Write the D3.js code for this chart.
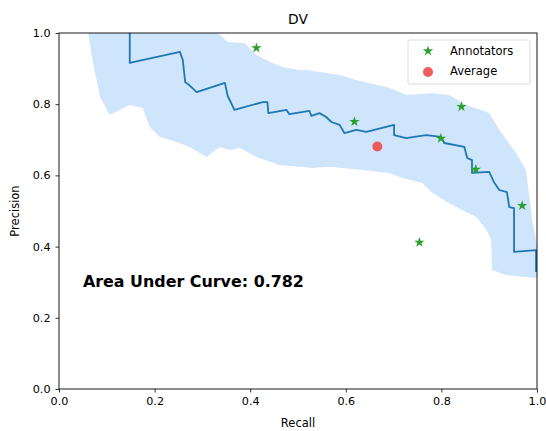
<!DOCTYPE html>
<html>
<head>
<meta charset="utf-8">
<script src="https://cdn.jsdelivr.net/npm/d3@7"></script>
<style>
  html, body { margin: 0; padding: 0; background: #fff; }
  svg { display: block; font-family: "DejaVu Sans", sans-serif; }
</style>
</head>
<body>
<svg id="chart" width="546" height="431"></svg>
<script>
// Precision–recall curve (recall, precision)
const curveRecall = [0.148, 0.148, 0.253, 0.259, 0.264, 0.273, 0.288, 0.347, 0.353, 0.367,
  0.426, 0.436, 0.438, 0.476, 0.482, 0.524, 0.528, 0.545, 0.559, 0.570, 0.587, 0.597,
  0.622, 0.643, 0.701, 0.701, 0.726, 0.768, 0.800, 0.806, 0.848, 0.854, 0.864, 0.864,
  0.900, 0.910, 0.921, 0.937, 0.942, 0.952, 0.952, 0.998, 0.998];
const curvePrecision = [1.000, 0.916, 0.947, 0.924, 0.862, 0.853, 0.834, 0.860, 0.823, 0.784,
  0.806, 0.806, 0.775, 0.784, 0.772, 0.781, 0.767, 0.775, 0.764, 0.750, 0.742, 0.719,
  0.728, 0.722, 0.742, 0.713, 0.705, 0.713, 0.708, 0.691, 0.680, 0.649, 0.643, 0.607,
  0.610, 0.581, 0.559, 0.553, 0.511, 0.508, 0.385, 0.390, 0.329];

// Spread band: upper edge (left to right)
const bandUpperRecall = [0.061, 0.332, 0.353, 0.388, 0.413, 0.441, 0.468, 0.503, 0.518, 0.587,
  0.622, 0.691, 0.727, 0.781, 0.816, 0.852, 0.900, 0.921, 0.956, 0.977, 0.983, 0.990,
  0.996, 1.000, 1.000];
const bandUpperPrecision = [1.000, 1.000, 0.975, 0.972, 0.938, 0.919, 0.904, 0.896, 0.896, 0.882,
  0.868, 0.846, 0.826, 0.831, 0.826, 0.798, 0.775, 0.728, 0.663, 0.615, 0.551, 0.475,
  0.433, 0.404, 0.312];
// Spread band: lower edge (right to left)
const bandLowerRecall = [0.998, 0.935, 0.906, 0.904, 0.894, 0.873, 0.843, 0.816, 0.781, 0.760,
  0.718, 0.691, 0.635, 0.566, 0.530, 0.461, 0.413, 0.378, 0.357, 0.336, 0.309, 0.273,
  0.246, 0.211, 0.190, 0.175, 0.148, 0.127, 0.106, 0.086, 0.071, 0.061];
const bandLowerPrecision = [0.312, 0.320, 0.334, 0.419, 0.447, 0.483, 0.503, 0.522, 0.551, 0.579,
  0.593, 0.607, 0.615, 0.624, 0.621, 0.629, 0.652, 0.677, 0.671, 0.680, 0.652, 0.680,
  0.694, 0.708, 0.736, 0.789, 0.798, 0.784, 0.770, 0.820, 0.916, 1.000];

// Individual annotators
const annotatorRecall = [0.413, 0.618, 0.842, 0.799, 0.872, 0.969, 0.754];
const annotatorPrecision = [0.958, 0.751, 0.793, 0.704, 0.617, 0.515, 0.412];

// Mean of annotators
const averageRecall = [0.666];
const averagePrecision = [0.681];

const tickValues = [0.0, 0.2, 0.4, 0.6, 0.8, 1.0];
const aucValue = 0.782;

const svg = d3.select("#chart");
const plotLeft = 59, plotRight = 537, plotTop = 33, plotBottom = 389;

const x = d3.scaleLinear().domain([0, 1]).range([plotLeft, plotRight]);
const y = d3.scaleLinear().domain([0, 1]).range([plotBottom, plotTop]);

svg.append("defs").append("clipPath").attr("id", "plotClip")
  .append("rect").attr("x", plotLeft).attr("y", plotTop)
  .attr("width", plotRight - plotLeft).attr("height", plotBottom - plotTop);

const plot = svg.append("g").attr("clip-path", "url(#plotClip)");

// Band polygon
const bandPts = bandUpperRecall.map((r, i) => [r, bandUpperPrecision[i]])
  .concat(bandLowerRecall.map((r, i) => [r, bandLowerPrecision[i]]));
const polyLine = d3.line().x(d => x(d[0])).y(d => y(d[1])).curve(d3.curveLinearClosed);
plot.append("path").attr("d", polyLine(bandPts))
  .attr("fill", "#cfe5fb").attr("stroke", "none");

// PR curve
const curvePts = curveRecall.map((r, i) => [r, curvePrecision[i]]);
const line = d3.line().x(d => x(d[0])).y(d => y(d[1]));
plot.append("path").attr("d", line(curvePts))
  .attr("fill", "none").attr("stroke", "#1f77b4").attr("stroke-width", 1.8)
  .attr("stroke-linejoin", "round");

// Annotators (stars)
const star = d3.symbol().type(d3.symbolStar).size(34);
plot.selectAll(".ann").data(annotatorRecall.map((r, i) => [r, annotatorPrecision[i]]))
  .enter().append("path")
  .attr("transform", d => `translate(${x(d[0])},${y(d[1])})`)
  .attr("d", star).attr("fill", "#2ca02c");

// Average
plot.selectAll(".avg").data(averageRecall.map((r, i) => [r, averagePrecision[i]]))
  .enter().append("circle")
  .attr("cx", d => x(d[0])).attr("cy", d => y(d[1])).attr("r", 5)
  .attr("fill", "#f04a4a").attr("fill-opacity", 0.9);

// AUC label
svg.append("text").attr("x", x(0.05)).attr("y", y(0.3))
  .attr("dominant-baseline", "middle")
  .attr("font-size", 15.9).attr("font-weight", "bold").attr("fill", "#000")
  .text(`Area Under Curve: ${aucValue.toFixed(3)}`);

// Axes
const fmt = d3.format(".1f");
const xAxis = svg.append("g").attr("transform", `translate(0,${plotBottom})`)
  .call(d3.axisBottom(x).tickValues(tickValues).tickFormat(fmt).tickSize(3.5).tickPadding(5));
const yAxis = svg.append("g").attr("transform", `translate(${plotLeft},0)`)
  .call(d3.axisLeft(y).tickValues(tickValues).tickFormat(fmt).tickSize(3.5).tickPadding(5));
[xAxis, yAxis].forEach(g => {
  g.select(".domain").remove();
  g.selectAll("text").attr("font-size", 11.2).attr("font-family", "DejaVu Sans, sans-serif").attr("fill", "#000");
  g.selectAll("line").attr("stroke", "#000").attr("stroke-width", 0.8);
});

// Frame
svg.append("rect").attr("x", plotLeft).attr("y", plotTop)
  .attr("width", plotRight - plotLeft).attr("height", plotBottom - plotTop)
  .attr("fill", "none").attr("stroke", "#000").attr("stroke-width", 0.9);

// Title and axis labels
svg.append("text").attr("x", (plotLeft + plotRight) / 2).attr("y", 24)
  .attr("text-anchor", "middle").attr("font-size", 13.8).text("DV");
svg.append("text").attr("x", (plotLeft + plotRight) / 2).attr("y", 427)
  .attr("text-anchor", "middle").attr("font-size", 11.5).text("Recall");
svg.append("text").attr("transform", `translate(19,${(plotTop + plotBottom) / 2}) rotate(-90)`)
  .attr("text-anchor", "middle").attr("font-size", 11.5).text("Precision");

// Legend
const lg = svg.append("g");
lg.append("rect").attr("x", 408).attr("y", 40).attr("width", 122).attr("height", 44)
  .attr("rx", 2).attr("fill", "#fff").attr("fill-opacity", 0.8)
  .attr("stroke", "#d9d9d9").attr("stroke-width", 0.9);
lg.append("path").attr("transform", "translate(428,51)")
  .attr("d", star).attr("fill", "#2ca02c");
lg.append("circle").attr("cx", 428).attr("cy", 72).attr("r", 5)
  .attr("fill", "#f04a4a").attr("fill-opacity", 0.9);
lg.append("text").attr("x", 450).attr("y", 51).attr("dominant-baseline", "middle")
  .attr("font-size", 11.5).text("Annotators");
lg.append("text").attr("x", 450).attr("y", 71).attr("dominant-baseline", "middle")
  .attr("font-size", 11.5).text("Average");
</script>
</body>
</html>
